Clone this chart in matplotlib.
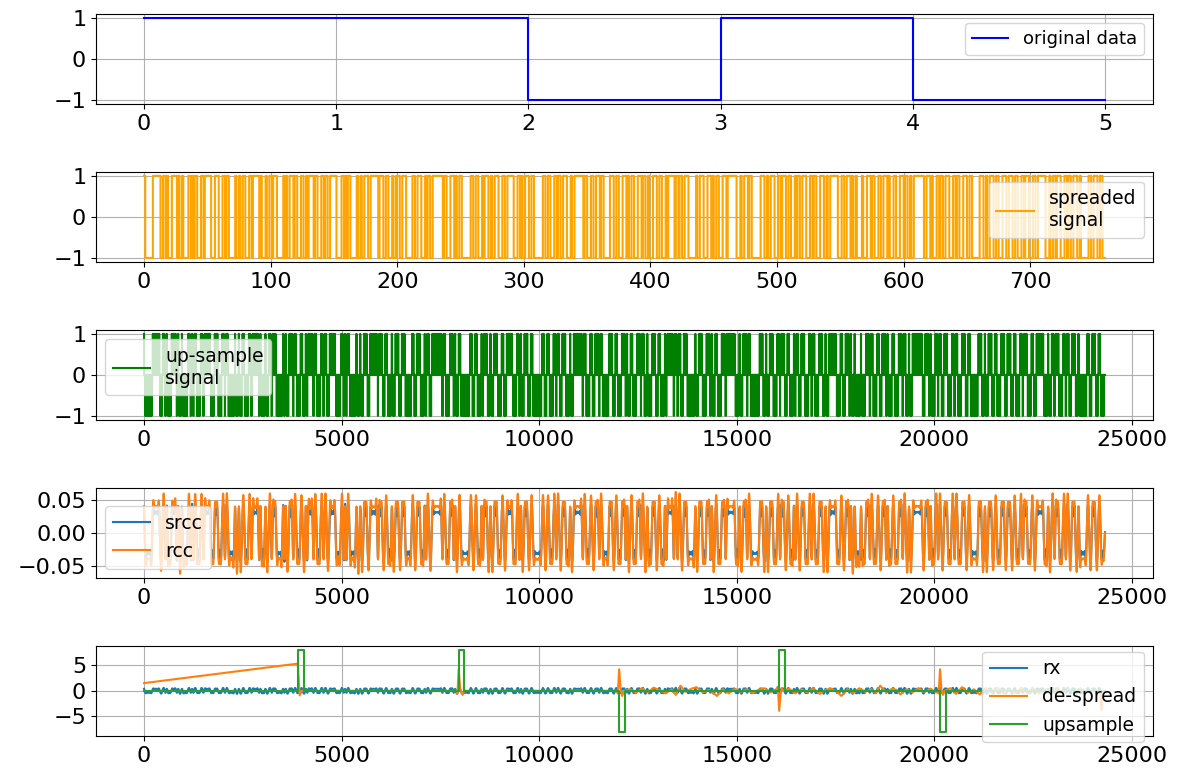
import numpy as np
import matplotlib
matplotlib.use("Agg")
import matplotlib.pyplot as plt

# original data bits
DATA_BITS = [1, 1, -1, 1, -1]

# spreaded chip sequence (1 = +1, 0 = -1)
CHIP_ROWS = [
    "1000000111 1110011010 0011110100 1000011010",
    "1100011011 1110001110 0011011000 0010010011",
    "0001101111 1010001001 1011100000 1010011101",
    "1000110010 1111011000 1101100111 1100001101",
    "0110000010 0100111001 1111101110 0110001001",
    "1100111000 0011001110 0010110011 1111110110",
    "0011101001 1000000011 0011000101 1100100111",
    "0001100111 1100011010 0111001100 0000011001",
    "1000110110 0111000100 1111111011 0001100111",
    "0110000011 1001100011 1010011000 1110110010",
    "0011100110 0010111110 1101100111 0000001001",
    "1100011101 0011000111 0111111100 0100111011",
    "0000000111 0010011100 0110111001 1000101100",
    "1110001101 1000111001 0011111100 0110011101",
    "0010000100 0111011000 1100111010 0011000111",
    "0110010011 1111110011 1010001101 1001110001",
    "1011000111 0011000000 1110010011 1001100011",
    "1001110011 0001101110 0011001111 1100010011",
    "0111000110 1100111001 0000001100 1110011000",
]

SPS = 32          # samples per chip
ROLLOFF = 0.45
SPAN = 6
SRCC_LEVEL = 0.031
RCC_LEVEL = 0.040
RX_GAIN = 9.5

# bottom panel: despread bit pulses
PULSE_START = [3900, 7965, 12020, 16070, 20140]
PULSE_END = [4040, 8105, 12160, 16215, 20285]
PULSE_AMP = [8, 8, -8, 8, -8]

# de-spread output, hand read breakpoints
DESPREAD_X = [0, 3890, 3940, 3990, 7900, 7930, 7965, 8000, 8060, 8110,
              11950, 11990, 12025, 12060, 12100, 12150,
              12300, 12450, 12600, 12750, 12900, 13050, 13200, 13350, 13460, 13575,
              13700, 13850, 13980, 14150, 14300, 14400, 14500, 14650, 14800, 14950,
              15100, 15250, 15400, 15550, 15700, 15850, 16000, 16040, 16075, 16110,
              16140, 16180, 16330, 16480, 16630, 16780, 16930, 17100, 17250, 17400,
              17550, 17650, 17800, 17950, 18100, 18250, 18400, 18520, 18630, 18780,
              18930, 19040, 19140, 19300, 19450, 19600, 19750, 19900, 20050, 20080,
              20110, 20145, 20180, 20220, 20260, 20400, 20550, 20700, 20850, 21000,
              21150, 21300, 21450, 21600, 21750, 21900, 22050, 22200, 22350, 22500,
              22650, 22800, 22950, 23100, 23250, 23400, 23550, 23700, 23850, 24000,
              24150, 24200, 24230, 24260]
DESPREAD_Y = [1.5, 5.3, -0.9, 0, 0, -0.6, 4.2, 0.4, -0.8, 0,
              0, -0.5, 4.2, 0.3, -1.0, 0,
              0.3, -0.4, 0.5, -0.3, 0.6, 0.1, -0.5, 0.3, -0.8, 1.0,
              -0.2, 0.4, 0.7, -0.3, 0.2, -0.4, -1.0, 0.3, -0.5, 0.4,
              -0.2, 0.3, -0.4, 0.2, 0.5, -0.3, 0.3, 0.8, -3.9, -0.5,
              0.5, 0, 0.4, -0.5, 0.3, -0.3, 0.5, -0.6, 0.2, 0.4,
              -0.3, -1.0, 0.3, -0.4, 0.5, -0.2, 0.3, -0.4, 1.0, -0.3,
              0.4, 0.2, -0.7, 0.3, -0.3, 0.5, -0.2, 0.4, -0.3, 0,
              -0.5, 4.2, 0.2, -0.8, 0, 0.5, -0.6, 0.7, -0.4, 0.3,
              -0.7, 0.5, -0.3, 0.6, -0.5, 0.3, -0.4, 0.5, -0.3, 0.4,
              -0.5, 0.3, -0.2, 0.4, -0.4, 0.3, -0.3, 0.5, -0.4, 0.2,
              -0.3, 0, -3.8, -0.5]

plt.rcParams['xtick.labelsize'] = 16
plt.rcParams['ytick.labelsize'] = 16

chips = np.array([1 if c == '1' else -1 for c in "".join(CHIP_ROWS).replace(" ", "")])

up = np.zeros(len(chips) * SPS)
up[::SPS] = chips

t = np.arange(-SPAN * SPS, SPAN * SPS + 1) / SPS
t[t == 0] = 1e-8
b = ROLLOFF
h = (np.sin(np.pi * t * (1 - b)) + 4 * b * t * np.cos(np.pi * t * (1 + b))) / (np.pi * t * (1 - (4 * b * t) ** 2))
rc = np.convolve(h, h)

srcc = np.convolve(up, h, 'same') * SRCC_LEVEL / (h.sum() / SPS)
rcc = np.convolve(up, rc, 'same') * RCC_LEVEL / (rc.sum() / SPS)
rx = rcc * RX_GAIN

ux, uy = [0], [0]
for s, e, a in zip(PULSE_START, PULSE_END, PULSE_AMP):
    ux += [s, s, e, e]
    uy += [0, a, a, 0]
ux.append(len(up))
uy.append(0)

fig, axes = plt.subplots(5, 1, figsize=(11.79, 7.69), dpi=100)
fig.subplots_adjust(left=0.0814, right=0.978, top=0.982, bottom=0.043, hspace=0.75)

ax = axes[0]
ax.plot(np.arange(len(DATA_BITS) + 1), DATA_BITS + [DATA_BITS[-1]], 'b', drawstyle='steps-post', label='original data')
ax.legend(loc='upper right', fontsize=13)

ax = axes[1]
ax.plot(np.arange(len(chips)), chips, color='orange', drawstyle='steps-post', label='spreaded\nsignal')
ax.legend(loc='center right', bbox_to_anchor=(1.0, 0.58), fontsize=13.5)

ax = axes[2]
ax.plot(np.arange(len(up)), up, color='green', label='up-sample\nsignal')
ax.legend(loc='upper left', fontsize=13.5)

ax = axes[3]
ax.plot(srcc, label='srcc')
ax.plot(rcc, label='rcc')
ax.legend(loc='center left', bbox_to_anchor=(0.0, 0.45), fontsize=13.5)

ax = axes[4]
ax.plot(rx, label='rx')
ax.plot(DESPREAD_X, DESPREAD_Y, label='de-spread')
ax.plot(ux, uy, label='upsample')
ax.legend(loc='lower right', bbox_to_anchor=(1.0, -0.175), fontsize=13.5)

for ax in axes:
    ax.grid(True)

fig.savefig('out.png')
